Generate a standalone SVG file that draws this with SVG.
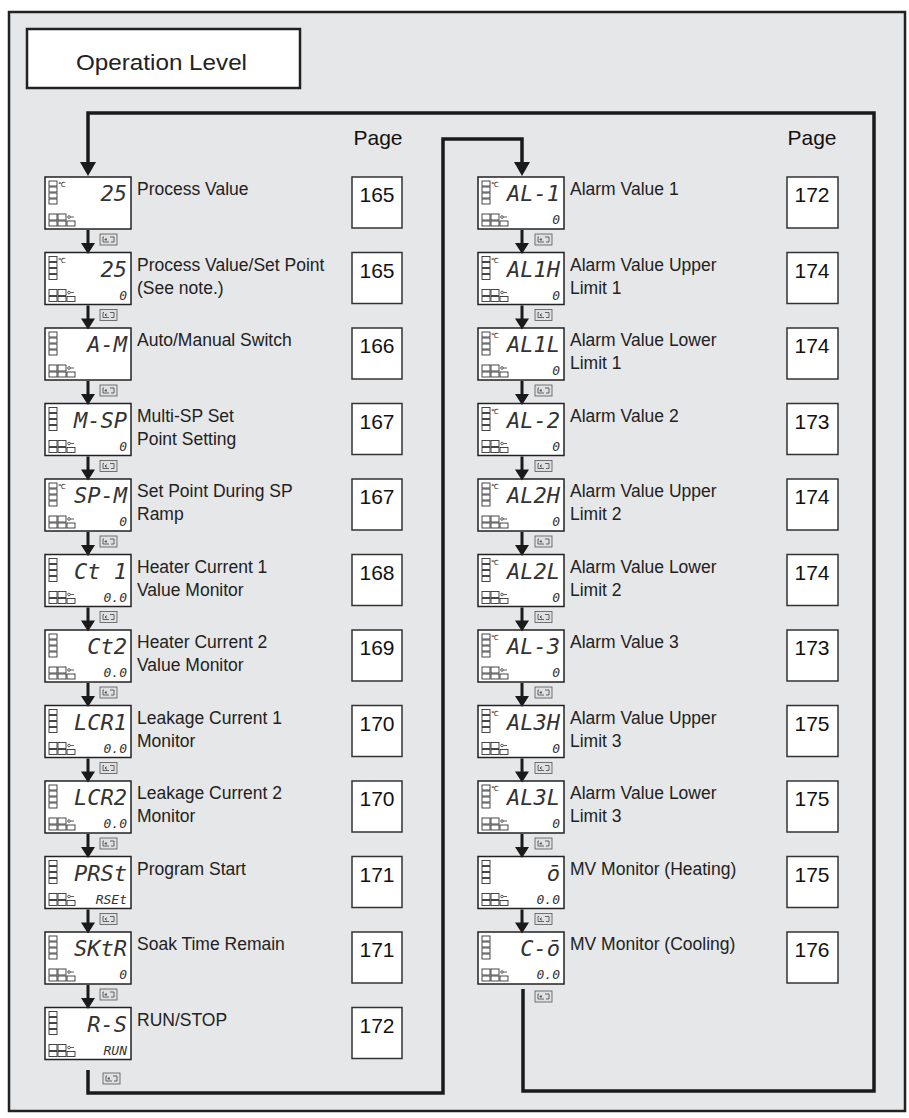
<svg xmlns="http://www.w3.org/2000/svg" xmlns:xlink="http://www.w3.org/1999/xlink" width="909" height="1118" viewBox="0 0 909 1118">
<style>
.lbl{font-family:"Liberation Sans",Arial,sans-serif;font-size:17.5px;fill:#222}
.pg{font-family:"Liberation Sans",Arial,sans-serif;font-size:21px;fill:#111;text-anchor:middle}
.seg{font-family:"DejaVu Sans Mono",monospace;font-style:italic;font-size:22px;fill:#333;text-anchor:end}
.seg2{font-family:"DejaVu Sans Mono",monospace;font-style:italic;font-size:13px;fill:#333;text-anchor:end}
.pbox{fill:#fff;stroke:#333;stroke-width:1.5}
.ln{fill:none;stroke:#1a1a1a;stroke-width:3.5}
</style>
<defs>
<g id="disp">
<rect x="0" y="0" width="86" height="52" fill="#fff" stroke="#222" stroke-width="1.5"/>
<g fill="none" stroke="#333" stroke-width="0.9">
<rect x="4" y="4" width="8" height="5"/><rect x="4" y="10" width="8" height="5"/><rect x="4" y="16" width="8" height="5"/><rect x="4" y="22" width="8" height="5"/>
<rect x="4" y="37" width="8" height="6"/><rect x="13" y="37" width="8" height="6"/>
<rect x="4" y="44" width="8" height="5"/><rect x="13" y="44" width="8" height="5"/><rect x="22" y="44" width="8" height="5"/>
</g>
<circle cx="24" cy="40" r="1.3" fill="none" stroke="#333" stroke-width="0.8"/><path d="M25.3,40 H29" stroke="#333" stroke-width="0.8"/>
</g>
<g id="dispc"><use xlink:href="#disp"/><text x="13" y="10" font-family="DejaVu Sans,sans-serif" font-size="7" fill="#222">℃</text></g>
<g id="key"><rect x="0" y="0" width="17" height="11" fill="#e0e0e0" stroke="#555" stroke-width="0.8"/><path d="M4,3 H3 V8 H9 M7,5.5 L5,5.5 M6.5,4 L5,5.5 L6.5,7 M10,3 H14 V8 H11" fill="none" stroke="#444" stroke-width="0.8"/></g>
</defs>
<rect x="0" y="0" width="909" height="1118" fill="#fff"/>
<rect x="9" y="12" width="896" height="1099" fill="#e6e7e9" stroke="#222" stroke-width="2.5"/>
<g id="title"><rect x="27" y="29" width="273" height="59" fill="#fff" stroke="#222" stroke-width="2.5"/><text x="76" y="70" font-family="Liberation Sans,Arial,sans-serif" font-size="22" textLength="171" lengthAdjust="spacingAndGlyphs" fill="#222">Operation Level</text></g>
<text x="378" y="145" class="pg">Page</text>
<text x="812" y="145" class="pg">Page</text>

<g id="connectors">
<polyline class="ln" points="523,989 523,1091 874,1091 874,113 88,113 88,165"/>
<polyline class="ln" points="88,1070 88,1093 443,1093 443,139 522,139 522,165"/>
<path d="M80,162 L96,162 L88,176 z" fill="#1a1a1a"/>
<path d="M514,162 L530,162 L522,176 z" fill="#1a1a1a"/>
<use xlink:href="#key" x="103" y="1073"/>
<use xlink:href="#key" x="535" y="991"/>
</g>

<g id="L1"><use xlink:href="#dispc" x="45" y="177"/><text class="seg" x="127" y="201">25</text><text class="lbl" x="137" y="195">Process Value</text><rect class="pbox" x="352" y="177" width="50" height="51"/><text class="pg" x="377" y="202">165</text></g>
<g id="L2"><use xlink:href="#dispc" x="45" y="252.5"/><text class="seg" x="127" y="276.5">25</text><text class="seg2" x="127" y="299.5">0</text><text class="lbl" x="137" y="270.5">Process Value/Set Point</text><text class="lbl" x="137" y="293.5">(See note.)</text><rect class="pbox" x="352" y="252.5" width="50" height="51"/><text class="pg" x="377" y="277.5">165</text></g>
<g id="L3"><use xlink:href="#disp" x="45" y="328"/><text class="seg" x="127" y="352">A-M</text><text class="lbl" x="137" y="346">Auto/Manual Switch</text><rect class="pbox" x="352" y="328" width="50" height="51"/><text class="pg" x="377" y="353">166</text></g>
<g id="L4"><use xlink:href="#disp" x="45" y="403.5"/><text class="seg" x="127" y="427.5">M-SP</text><text class="seg2" x="127" y="450.5">0</text><text class="lbl" x="137" y="421.5">Multi-SP Set</text><text class="lbl" x="137" y="444.5">Point Setting</text><rect class="pbox" x="352" y="403.5" width="50" height="51"/><text class="pg" x="377" y="428.5">167</text></g>
<g id="L5"><use xlink:href="#dispc" x="45" y="479"/><text class="seg" x="127" y="503">SP-M</text><text class="seg2" x="127" y="526">0</text><text class="lbl" x="137" y="497">Set Point During SP</text><text class="lbl" x="137" y="520">Ramp</text><rect class="pbox" x="352" y="479" width="50" height="51"/><text class="pg" x="377" y="504">167</text></g>
<g id="L6"><use xlink:href="#disp" x="45" y="554.5"/><text class="seg" x="127" y="578.5">Ct 1</text><text class="seg2" x="127" y="601.5">0.0</text><text class="lbl" x="137" y="572.5">Heater Current 1</text><text class="lbl" x="137" y="595.5">Value Monitor</text><rect class="pbox" x="352" y="554.5" width="50" height="51"/><text class="pg" x="377" y="579.5">168</text></g>
<g id="L7"><use xlink:href="#disp" x="45" y="630"/><text class="seg" x="127" y="654">Ct2</text><text class="seg2" x="127" y="677">0.0</text><text class="lbl" x="137" y="648">Heater Current 2</text><text class="lbl" x="137" y="671">Value Monitor</text><rect class="pbox" x="352" y="630" width="50" height="51"/><text class="pg" x="377" y="655">169</text></g>
<g id="L8"><use xlink:href="#disp" x="45" y="705.5"/><text class="seg" x="127" y="729.5">LCR1</text><text class="seg2" x="127" y="752.5">0.0</text><text class="lbl" x="137" y="723.5">Leakage Current 1</text><text class="lbl" x="137" y="746.5">Monitor</text><rect class="pbox" x="352" y="705.5" width="50" height="51"/><text class="pg" x="377" y="730.5">170</text></g>
<g id="L9"><use xlink:href="#disp" x="45" y="781"/><text class="seg" x="127" y="805">LCR2</text><text class="seg2" x="127" y="828">0.0</text><text class="lbl" x="137" y="799">Leakage Current 2</text><text class="lbl" x="137" y="822">Monitor</text><rect class="pbox" x="352" y="781" width="50" height="51"/><text class="pg" x="377" y="806">170</text></g>
<g id="L10"><use xlink:href="#disp" x="45" y="856.5"/><text class="seg" x="127" y="880.5">PRSt</text><text class="seg2" x="127" y="903.5">RSEt</text><text class="lbl" x="137" y="874.5">Program Start</text><rect class="pbox" x="352" y="856.5" width="50" height="51"/><text class="pg" x="377" y="881.5">171</text></g>
<g id="L11"><use xlink:href="#disp" x="45" y="932"/><text class="seg" x="127" y="956">SKtR</text><text class="seg2" x="127" y="979">0</text><text class="lbl" x="137" y="950">Soak Time Remain</text><rect class="pbox" x="352" y="932" width="50" height="51"/><text class="pg" x="377" y="957">171</text></g>
<g id="L12"><use xlink:href="#disp" x="45" y="1007.5"/><text class="seg" x="127" y="1031.5">R-S</text><text class="seg2" x="127" y="1054.5">RUN</text><text class="lbl" x="137" y="1025.5">RUN/STOP</text><rect class="pbox" x="352" y="1007.5" width="50" height="51"/><text class="pg" x="377" y="1032.5">172</text></g>

<g id="R1"><use xlink:href="#dispc" x="478" y="177"/><text class="seg" x="560" y="201">AL-1</text><text class="seg2" x="560" y="224">0</text><text class="lbl" x="570" y="195">Alarm Value 1</text><rect class="pbox" x="787" y="177" width="51" height="51"/><text class="pg" x="812" y="202">172</text></g>
<g id="R2"><use xlink:href="#dispc" x="478" y="252.5"/><text class="seg" x="560" y="276.5">AL1H</text><text class="seg2" x="560" y="299.5">0</text><text class="lbl" x="570" y="270.5">Alarm Value Upper</text><text class="lbl" x="570" y="293.5">Limit 1</text><rect class="pbox" x="787" y="252.5" width="51" height="51"/><text class="pg" x="812" y="277.5">174</text></g>
<g id="R3"><use xlink:href="#dispc" x="478" y="328"/><text class="seg" x="560" y="352">AL1L</text><text class="seg2" x="560" y="375">0</text><text class="lbl" x="570" y="346">Alarm Value Lower</text><text class="lbl" x="570" y="369">Limit 1</text><rect class="pbox" x="787" y="328" width="51" height="51"/><text class="pg" x="812" y="353">174</text></g>
<g id="R4"><use xlink:href="#dispc" x="478" y="403.5"/><text class="seg" x="560" y="427.5">AL-2</text><text class="seg2" x="560" y="450.5">0</text><text class="lbl" x="570" y="421.5">Alarm Value 2</text><rect class="pbox" x="787" y="403.5" width="51" height="51"/><text class="pg" x="812" y="428.5">173</text></g>
<g id="R5"><use xlink:href="#dispc" x="478" y="479"/><text class="seg" x="560" y="503">AL2H</text><text class="seg2" x="560" y="526">0</text><text class="lbl" x="570" y="497">Alarm Value Upper</text><text class="lbl" x="570" y="520">Limit 2</text><rect class="pbox" x="787" y="479" width="51" height="51"/><text class="pg" x="812" y="504">174</text></g>
<g id="R6"><use xlink:href="#dispc" x="478" y="554.5"/><text class="seg" x="560" y="578.5">AL2L</text><text class="seg2" x="560" y="601.5">0</text><text class="lbl" x="570" y="572.5">Alarm Value Lower</text><text class="lbl" x="570" y="595.5">Limit 2</text><rect class="pbox" x="787" y="554.5" width="51" height="51"/><text class="pg" x="812" y="579.5">174</text></g>
<g id="R7"><use xlink:href="#dispc" x="478" y="630"/><text class="seg" x="560" y="654">AL-3</text><text class="seg2" x="560" y="677">0</text><text class="lbl" x="570" y="648">Alarm Value 3</text><rect class="pbox" x="787" y="630" width="51" height="51"/><text class="pg" x="812" y="655">173</text></g>
<g id="R8"><use xlink:href="#dispc" x="478" y="705.5"/><text class="seg" x="560" y="729.5">AL3H</text><text class="seg2" x="560" y="752.5">0</text><text class="lbl" x="570" y="723.5">Alarm Value Upper</text><text class="lbl" x="570" y="746.5">Limit 3</text><rect class="pbox" x="787" y="705.5" width="51" height="51"/><text class="pg" x="812" y="730.5">175</text></g>
<g id="R9"><use xlink:href="#dispc" x="478" y="781"/><text class="seg" x="560" y="805">AL3L</text><text class="seg2" x="560" y="828">0</text><text class="lbl" x="570" y="799">Alarm Value Lower</text><text class="lbl" x="570" y="822">Limit 3</text><rect class="pbox" x="787" y="781" width="51" height="51"/><text class="pg" x="812" y="806">175</text></g>
<g id="R10"><use xlink:href="#disp" x="478" y="856.5"/><text class="seg" x="560" y="880.5">ō</text><text class="seg2" x="560" y="903.5">0.0</text><text class="lbl" x="570" y="874.5">MV Monitor (Heating)</text><rect class="pbox" x="787" y="856.5" width="51" height="51"/><text class="pg" x="812" y="881.5">175</text></g>
<g id="R11"><use xlink:href="#disp" x="478" y="932"/><text class="seg" x="560" y="956">C-ō</text><text class="seg2" x="560" y="979">0.0</text><text class="lbl" x="570" y="950">MV Monitor (Cooling)</text><rect class="pbox" x="787" y="932" width="51" height="51"/><text class="pg" x="812" y="957">176</text></g>

<g id="steps">
<g stroke="#1a1a1a" stroke-width="3">
<path d="M88,230V246M88,305.5V321.5M88,381V397M88,456.5V472.5M88,532V548M88,607.5V623.5M88,683V699M88,758.5V774.5M88,834V850M88,909.5V925.5M88,985V1001"/>
<path d="M522,230V246M522,305.5V321.5M522,381V397M522,456.5V472.5M522,532V548M522,607.5V623.5M522,683V699M522,758.5V774.5M522,834V850M522,909.5V925.5"/>
</g>
<g fill="#1a1a1a">
<path d="M81,243h14l-7,11z M81,318.5h14l-7,11z M81,394h14l-7,11z M81,469.5h14l-7,11z M81,545h14l-7,11z M81,620.5h14l-7,11z M81,696h14l-7,11z M81,771.5h14l-7,11z M81,847h14l-7,11z M81,922.5h14l-7,11z M81,998h14l-7,11z"/>
<path d="M515,243h14l-7,11z M515,318.5h14l-7,11z M515,394h14l-7,11z M515,469.5h14l-7,11z M515,545h14l-7,11z M515,620.5h14l-7,11z M515,696h14l-7,11z M515,771.5h14l-7,11z M515,847h14l-7,11z M515,922.5h14l-7,11z"/>
</g>
<use xlink:href="#key" x="100" y="234"/><use xlink:href="#key" x="100" y="309.5"/><use xlink:href="#key" x="100" y="385"/><use xlink:href="#key" x="100" y="460.5"/><use xlink:href="#key" x="100" y="536"/><use xlink:href="#key" x="100" y="611.5"/><use xlink:href="#key" x="100" y="687"/><use xlink:href="#key" x="100" y="762.5"/><use xlink:href="#key" x="100" y="838"/><use xlink:href="#key" x="100" y="913.5"/><use xlink:href="#key" x="100" y="989"/>
<use xlink:href="#key" x="535" y="234"/><use xlink:href="#key" x="535" y="309.5"/><use xlink:href="#key" x="535" y="385"/><use xlink:href="#key" x="535" y="460.5"/><use xlink:href="#key" x="535" y="536"/><use xlink:href="#key" x="535" y="611.5"/><use xlink:href="#key" x="535" y="687"/><use xlink:href="#key" x="535" y="762.5"/><use xlink:href="#key" x="535" y="838"/><use xlink:href="#key" x="535" y="913.5"/>
</g>
</svg>
